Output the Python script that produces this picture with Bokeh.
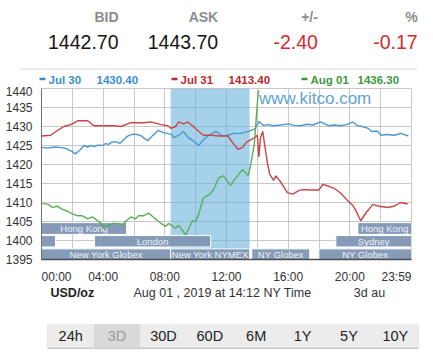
from bokeh.plotting import figure
from bokeh.layouts import column
from bokeh.models import Range1d, FixedTicker
from bokeh.core.properties import value
from bokeh.embed import file_html
from bokeh.resources import INLINE

FONT = value("Liberation Sans")

# ---------------- data ----------------
quote_labels = ["BID", "ASK", "+/-", "%"]
quote_values = ["1442.70", "1443.70", "-2.40", "-0.17"]

series_names = ["Jul 30", "Jul 31", "Aug 01"]
series_last = ["1430.40", "1413.40", "1436.30"]

jul30_h = [0.0, 0.4, 0.8, 1.2, 1.6, 2.0, 2.2, 2.5, 2.75, 3.0, 3.2, 3.45, 3.65, 3.95, 4.15,
           4.35, 4.55, 4.8, 5.1, 5.3, 5.5, 5.65, 5.95, 6.2, 6.45, 6.7, 6.9, 7.2, 7.4, 7.6,
           7.9, 8.15, 8.4, 8.6, 8.9, 9.2, 9.55, 9.85, 10.2, 10.5, 10.85, 11.3, 11.75, 12.1, 12.45,
           12.9, 13.3, 13.6, 13.85, 14.1, 14.4, 14.7, 15.05, 15.5, 16.0, 16.4, 16.8, 17.2, 17.6, 18.1,
           18.6, 19.0, 19.4, 19.8, 20.2, 20.5, 20.8, 21.2, 21.4, 21.8, 22.0, 22.4, 22.9, 23.3, 23.8]
jul30_p = [1424.5, 1424.3, 1424.6, 1424.5, 1424.2, 1423.4, 1422.8, 1423.8, 1425.0, 1424.6, 1425.0, 1424.7, 1425.1, 1425.0, 1425.5,
           1425.3, 1425.9, 1426.0, 1425.6, 1426.4, 1427.2, 1427.6, 1428.0, 1427.9, 1427.6, 1426.8, 1426.3, 1427.6, 1428.3, 1429.0,
           1428.4, 1428.2, 1428.0, 1427.1, 1427.7, 1428.7, 1427.0, 1426.2, 1425.0, 1426.5, 1427.7, 1428.7, 1427.5, 1427.7, 1428.2,
           1428.2, 1428.6, 1429.0, 1429.4, 1431.3, 1430.3, 1430.5, 1430.2, 1430.4, 1430.7, 1430.3, 1430.2, 1430.6, 1430.4, 1431.2,
           1430.2, 1430.4, 1430.2, 1430.5, 1431.2, 1430.2, 1430.0, 1429.5, 1428.7, 1428.8, 1427.7, 1427.9, 1427.7, 1428.2, 1427.5]

jul31_h = [0.0, 0.6, 1.05, 1.45, 1.9, 2.35, 3.0, 3.4, 4.0, 4.7, 5.15, 5.8, 6.6, 7.1, 7.75,
           8.2, 8.4, 8.7, 8.9, 9.2, 9.5, 9.85, 10.2, 10.5, 11.0, 11.5, 12.1, 12.4, 12.75, 13.05,
           13.25, 13.55, 13.8, 14.0, 14.1, 14.2, 14.35, 14.5, 14.65, 14.8, 15.05, 15.2, 15.5, 15.95, 16.3,
           16.7, 17.0, 17.5, 18.0, 18.25, 18.6, 19.0, 19.4, 19.85, 20.2, 20.4, 20.7, 21.05, 21.5, 21.9,
           22.45, 22.85, 23.3, 23.75]
jul31_p = [1427.5, 1427.7, 1429.0, 1430.0, 1430.5, 1431.5, 1431.5, 1430.2, 1430.2, 1430.2, 1430.0, 1431.0, 1431.0, 1431.2, 1430.5,
           1430.2, 1429.5, 1430.0, 1431.2, 1430.7, 1431.2, 1430.0, 1428.7, 1427.7, 1427.7, 1427.5, 1427.5, 1425.7, 1424.0, 1424.5,
           1425.7, 1426.5, 1427.0, 1427.7, 1422.0, 1427.0, 1428.7, 1424.5, 1420.5, 1417.5, 1415.8, 1417.0, 1415.5, 1412.6, 1412.2,
           1413.2, 1413.4, 1413.3, 1413.3, 1414.8, 1414.3, 1413.7, 1412.5, 1410.5, 1409.2, 1407.8, 1405.2, 1407.3, 1409.5, 1409.0,
           1408.7, 1409.0, 1410.0, 1409.6]

aug01_h = [0.05, 0.45, 0.7, 1.05, 1.35, 1.7, 2.0, 2.35, 2.65, 3.0, 3.3, 3.65, 3.85, 4.05, 4.3,
           4.6, 4.95, 5.25, 5.45, 5.8, 6.1, 6.3, 6.6, 6.95, 7.25, 7.6, 7.75, 8.05, 8.25, 8.7,
           8.9, 9.35, 9.8, 10.0, 10.2, 10.5, 10.85, 11.15, 11.5, 11.8, 12.25, 12.7, 13.05, 13.4, 13.55,
           13.8, 14.05, 14.1]
aug01_p = [1409.7, 1409.5, 1408.7, 1409.0, 1408.2, 1407.7, 1407.0, 1406.5, 1406.5, 1405.7, 1406.2, 1405.2, 1404.5, 1403.2, 1403.7,
           1404.5, 1404.5, 1404.0, 1405.0, 1406.2, 1405.7, 1406.5, 1406.5, 1407.2, 1406.2, 1405.0, 1404.5, 1403.7, 1404.5, 1403.2,
           1404.0, 1401.5, 1405.2, 1405.0, 1407.0, 1411.2, 1412.0, 1413.2, 1416.5, 1417.0, 1414.5, 1417.0, 1418.7, 1417.0, 1419.5,
           1425.2, 1438.7, 1439.5]

x_tick_hours = [0, 4, 8, 12, 16, 20, 24]
x_tick_labels = ["00:00", "04:00", "08:00", "12:00", "16:00", "20:00", "23:59"]
y_ticks = [1395, 1400, 1405, 1410, 1415, 1420, 1425, 1430, 1435, 1440]

ny_open, ny_close = 8.38, 13.5

sess_names = ["Hong Kong", "", "London", "Sydney", "Hong Kong",
              "New York Globex", "New York NYMEX", "NY Globex", "NY Globex"]
sess_start = [0.0, 0.0, 3.44, 19.09, 20.52, 0.0, 8.38, 13.64, 17.99]
sess_end = [5.52, 0.91, 10.97, 24.0, 24.0, 8.38, 13.5, 17.4, 24.0]
sess_row = [0, 1, 1, 1, 0, 2, 2, 2, 2]

range_buttons = ["24h", "3D", "30D", "60D", "6M", "1Y", "5Y", "10Y"]
selected_button = "3D"
unit_text = "USD/oz"
stamp_text = "Aug 01 , 2019 at 14:12 NY Time"
span_text = "3d au"
watermark = "www.kitco.com"

# ---------------- styles ----------------
W = 433
series_line_colors = ["#4b98d3", "#c94545", "#5aae5a"]
series_text_colors = ["#3a8dd0", "#c1272d", "#3c9a3c"]
row_top = [1404.7, 1401.3, 1397.8]
row_bottom = [1401.6, 1398.3, 1395.0]


def blank(height, y0, y1):
    f = figure(width=W, height=height, x_range=Range1d(0, W), y_range=Range1d(y1, y0),
               x_axis_type=None, y_axis_type=None, toolbar_location=None,
               output_backend="svg", min_border=0, frame_align=False)
    f.outline_line_color = None
    f.background_fill_color = "white"
    f.border_fill_color = "white"
    return f


# ---------------- header ----------------
h = blank(86, 0, 86)
qx = [118 + 99.7 * i for i in range(4)]
h.text(x=qx, y=[16] * 4, text=quote_labels, text_align="right", text_baseline="middle",
       text_font=FONT, text_font_size="14px", text_font_style="bold", text_color="#8c8c8c")
h.text(x=qx, y=[41] * 4, text=quote_values, text_align="right", text_baseline="middle",
       text_font=FONT, text_font_size="19.5px",
       text_color=["#151515", "#151515", "#d22b2b", "#d22b2b"])
h.segment(x0=[20], y0=[68.5], x1=[417], y1=[68.5], line_color="#d6d6d6", line_width=1)

lx = [39, 171, 301]
h.segment(x0=lx, y0=[78.5] * 3, x1=[x + 6 for x in lx], y1=[78.5] * 3,
          line_color=series_text_colors, line_width=2.5)
h.text(x=[x + 9 for x in lx], y=[79] * 3, text=series_names, text_align="left", text_baseline="middle",
       text_font=FONT, text_font_size="11.5px", text_font_style="bold", text_color=series_text_colors)
h.text(x=[96, 228, 357], y=[79] * 3, text=series_last, text_align="left", text_baseline="middle",
       text_font=FONT, text_font_size="11.5px", text_font_style="bold", text_color=series_text_colors)

# ---------------- chart ----------------
p = figure(width=W, height=200, x_range=Range1d(0, 24), y_range=Range1d(1395, 1440),
           toolbar_location=None, output_backend="svg", frame_align=False,
           min_border_left=41, min_border_right=22, min_border_top=2, min_border_bottom=18)
p.background_fill_color = "white"
p.border_fill_color = "white"
p.outline_line_color = "#c8c8c8"

p.xgrid.ticker = FixedTicker(ticks=list(range(0, 25, 2)))
p.ygrid.ticker = FixedTicker(ticks=y_ticks)
for g in (p.xgrid, p.ygrid):
    g.grid_line_color = "#c8c8c8"
    g.grid_line_width = 1

hours_per_px = 24 / 370.0
half_w = 15 * hours_per_px
tick_pos = []
for i, t in enumerate(x_tick_hours):
    if i == 0:
        tick_pos.append(round(t + half_w, 3))
    elif i == len(x_tick_hours) - 1:
        tick_pos.append(round(t - half_w, 3))
    else:
        tick_pos.append(float(t))
p.xaxis.ticker = FixedTicker(ticks=tick_pos)
p.xaxis.major_label_overrides = {tp: lab for tp, lab in zip(tick_pos, x_tick_labels)}
p.yaxis.ticker = FixedTicker(ticks=y_ticks)
for ax in (p.xaxis, p.yaxis):
    ax.major_tick_line_color = None
    ax.minor_tick_line_color = None
    ax.major_label_text_font = "Liberation Sans"
    ax.major_label_text_font_size = "12px"
    ax.major_label_text_color = "#333333"
    ax.major_label_standoff = 3
p.xaxis.major_label_standoff = 4
p.xaxis.axis_line_color = "#505050"
p.xaxis.axis_line_width = 1.5
p.yaxis.axis_line_color = "#707070"

# New York trading hours shading
p.quad(left=[ny_open], right=[ny_close], bottom=[1395], top=[1440],
       fill_color="#6bb2dc", fill_alpha=0.6, line_color=None)

p.text(x=[14.1], y=[1437.3], text=[watermark], text_align="left", text_baseline="middle",
       text_font=FONT, text_font_size="17px", text_color="#5fa3d6")

# market sessions
p.quad(left=sess_start, right=sess_end,
       bottom=[row_bottom[r] for r in sess_row], top=[row_top[r] for r in sess_row],
       fill_color="#7e96b4", fill_alpha=0.95, line_color="white", line_width=1)
p.text(x=[(a + b) / 2 for a, b in zip(sess_start, sess_end)],
       y=[(row_top[r] + row_bottom[r]) / 2 for r in sess_row], text=sess_names,
       text_align="center", text_baseline="middle", text_font=FONT,
       text_font_size="9.5px", text_color="#eef2f7")

for hx, py, col in zip([jul30_h, jul31_h, aug01_h], [jul30_p, jul31_p, aug01_p], series_line_colors):
    p.line(hx, py, line_color=col, line_width=1.4)

# ---------------- footer ----------------
f = blank(68, 286, 354)
f.text(x=[50], y=[292], text=[unit_text], text_align="left", text_baseline="middle",
       text_font=FONT, text_font_size="12.5px", text_font_style="bold", text_color="#222222")
f.text(x=[133], y=[292], text=[stamp_text], text_align="left", text_baseline="middle",
       text_font=FONT, text_font_size="12.5px", text_color="#333333")
f.text(x=[369], y=[292], text=[span_text], text_align="center", text_baseline="middle",
       text_font=FONT, text_font_size="12.5px", text_color="#333333")

bar_l, bar_r = 47, 418
bw = (bar_r - bar_l) / len(range_buttons)
f.quad(left=[bar_l], right=[bar_r], top=[324], bottom=[348.5], fill_color="#c9c9c9", line_color=None)
f.quad(left=[bar_l], right=[bar_r], top=[323.5], bottom=[347], fill_color="#ececec", line_color=None)
sel = range_buttons.index(selected_button)
f.quad(left=[bar_l + bw * sel], right=[bar_l + bw * (sel + 1)], top=[323.5], bottom=[347],
       fill_color="#d9d9d9", line_color=None)
f.text(x=[bar_l + bw * (i + 0.5) for i in range(len(range_buttons))], y=[335] * len(range_buttons),
       text=range_buttons, text_align="center", text_baseline="middle", text_font=FONT,
       text_font_size="14.5px",
       text_color=["#9a9a9a" if b == selected_button else "#222222" for b in range_buttons])

layout = column(h, p, f, spacing=0)
open("out.html", "w").write(file_html(layout, INLINE))
